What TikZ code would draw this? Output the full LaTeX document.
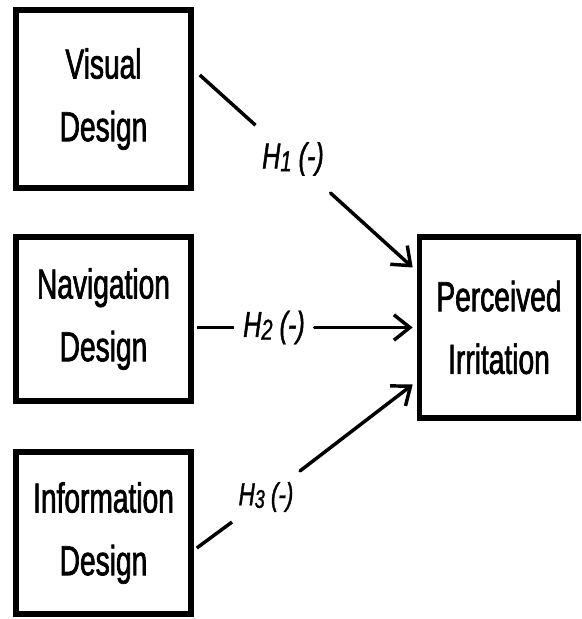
\documentclass[tikz,border=0pt]{standalone}
\usepackage{fontspec}
\usetikzlibrary{arrows.meta,calc}
\newfontfamily\boxfont{Liberation Sans}[FakeStretch=0.67,FakeBold=1.5]
\newfontfamily\hypfont{Liberation Sans}[FakeStretch=0.7,FakeBold=1.2]
\newcommand\Hsub[1]{H\raisebox{-0.15ex}{\scalebox{0.8}{#1}}}

\tikzset{every picture/.style={line width=0.75pt}}
\tikzset{
  construct/.style={draw, line width=4.2pt, align=center, inner sep=0pt, minimum width=131.25pt,
    font=\boxfont\fontsize{31.5}{47}\selectfont},
  hyplabel/.style={inner sep=0pt, font=\hypfont\itshape\fontsize{27}{30}\selectfont},
  link/.style={line width=2.6pt, line cap=round, -{Straight Barb[length=12pt,width=19pt,line width=2.6pt]}},
  linkplain/.style={line width=2.6pt}
}

\begin{document}
\begin{tikzpicture}[x=0.75pt,y=0.75pt,yscale=-1,xscale=1]
\useasboundingbox (0,0) rectangle (582,619);

% Text Node
\node [construct, minimum height=133.5pt] (vis) at (103.5,99) {Visual\\Design};
% Text Node
\node [construct, minimum height=123pt] (nav) at (103.5,319) {Navigation\\Design};
% Text Node
\node [construct, minimum height=121.5pt] (info) at (103.5,533) {Information\\Design};
% Text Node
\node [construct, minimum width=119.25pt, minimum height=135.75pt] (perc) at (499,327.5) {Perceived\\Irritation};

% Hypothesis labels
\node [hyplabel, minimum width=55.5pt, minimum height=51pt] (h1) at (293,159) {\Hsub{1} (-)};
\node [hyplabel, minimum width=60pt, minimum height=24pt] (h2) at (274,327.5) {\Hsub{2} (-)};
\node [hyplabel, font=\hypfont\itshape\fontsize{24}{28}\selectfont, minimum width=50.25pt, minimum height=39pt] (h3) at (266,497) {\Hsub{3} (-)};

%Straight Lines
\draw [linkplain] ($(vis.east)+(6,-24)$) -- (h1);
\draw [link] (h1) -- ($(perc.west)+(-4,-60)$);
%Straight Lines
\draw [linkplain] ($(nav.east)+(3,8.5)$) -- (h2);
\draw [link] (h2) -- ($(perc.west)+(-4,0)$);
%Straight Lines
\draw [linkplain] ($(info.east)+(3,15)$) -- (h3);
\draw [link] (h3) -- ($(perc.west)+(-4,57)$);

\end{tikzpicture}
\end{document}
